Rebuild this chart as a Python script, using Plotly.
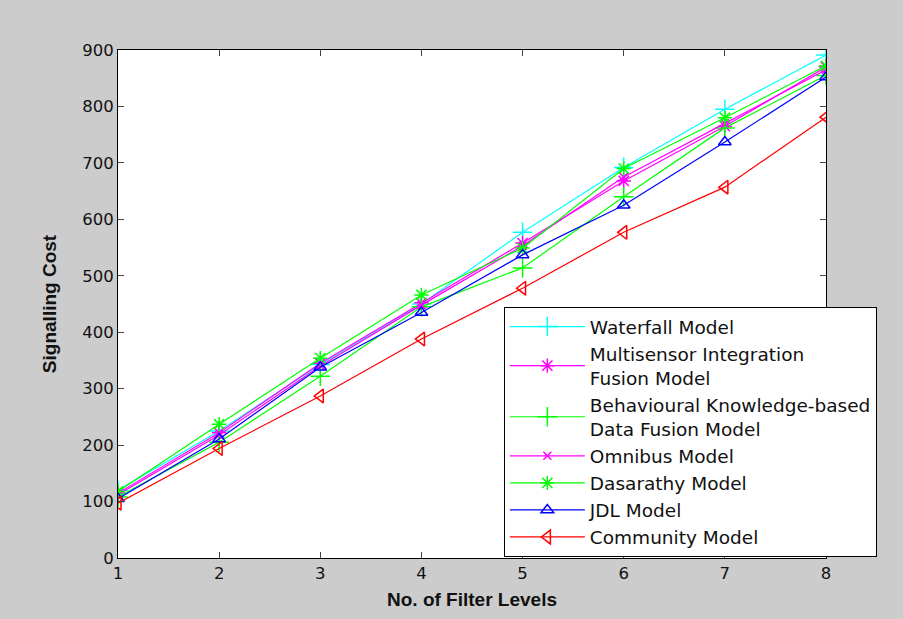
import plotly.graph_objects as go

filter_levels = [1, 2, 3, 4, 5, 6, 7, 8]

waterfall = [120, 225, 343, 450, 577, 692, 795, 891]
multisensor = [115, 222, 345, 452, 558, 668, 765, 870]
behavioural = [108, 205, 322, 445, 514, 640, 762, 855]
omnibus = [112, 218, 340, 448, 553, 675, 770, 865]
dasarathy = [118, 237, 354, 466, 549, 690, 780, 872]
jdl = [105, 211, 338, 435, 537, 625, 737, 852]
community = [97, 194, 287, 388, 478, 577, 657, 781]

series_names = [
    "Waterfall Model",
    "Multisensor Integration<br>Fusion Model",
    "Behavioural Knowledge-based<br>Data Fusion Model",
    "Omnibus Model",
    "Dasarathy Model",
    "JDL Model",
    "Community Model",
]
series_values = [waterfall, multisensor, behavioural, omnibus, dasarathy, jdl, community]
series_colors = ["#00ffff", "#ff00ff", "#00ff00", "#ff00ff", "#00ff00", "#0000ff", "#ff0000"]
series_symbols = ["cross-thin-open", "asterisk-open", "cross-thin-open", "x-thin-open",
                  "asterisk-open", "triangle-up-open", "triangle-left-open"]
series_sizes = [14, 12, 14, 8, 12, 11, 12]

fig = go.Figure()
for name, vals, col, sym, sz in zip(series_names, series_values, series_colors, series_symbols, series_sizes):
    fig.add_trace(go.Scatter(
        x=filter_levels, y=vals, name=name, mode="lines+markers",
        line=dict(color=col, width=1.2),
        marker=dict(symbol=sym, size=sz, color=col, line=dict(color=col, width=1.5)),
    ))

fig.update_layout(
    width=903, height=619,
    paper_bgcolor="#cccccc", plot_bgcolor="white",
    margin=dict(l=118, r=77, t=50, b=61),
    font=dict(family="DejaVu Sans, Arial, sans-serif", size=16.5, color="#111111"),
    showlegend=True,
    legend=dict(
        x=0.545, y=0.494, xanchor="left", yanchor="top",
        bgcolor="white", bordercolor="black", borderwidth=1,
        font=dict(size=18.5, color="#111111"),
        tracegroupgap=0, itemwidth=75,
    ),
)
fig.update_xaxes(
    range=[1, 8], tickvals=filter_levels, ticks="inside", ticklen=6,
    showline=True, linecolor="black", linewidth=1, mirror="allticks",
    showgrid=False, zeroline=False,
    title=dict(text="<b>No. of Filter Levels</b>", font=dict(family="Liberation Sans, Arial, sans-serif", size=19), standoff=10),
)
fig.update_yaxes(
    range=[0, 900], dtick=100, ticks="inside", ticklen=6,
    showline=True, linecolor="black", linewidth=1, mirror="allticks",
    showgrid=False, zeroline=False,
    title=dict(text="<b>Signalling Cost</b>", font=dict(family="Liberation Sans, Arial, sans-serif", size=19), standoff=20),
)

fig.write_html("out.html")
